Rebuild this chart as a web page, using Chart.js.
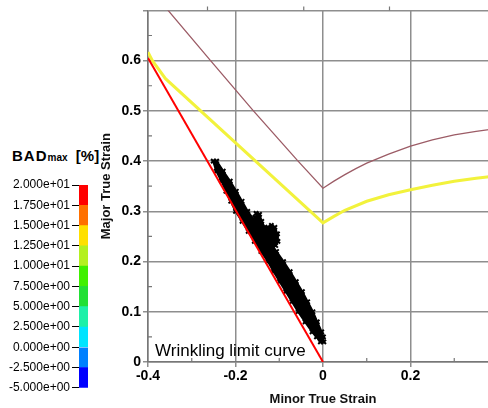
<!DOCTYPE html>
<html>
<head>
<meta charset="utf-8">
<script src="https://cdn.jsdelivr.net/npm/chart.js@4.4.1/dist/chart.umd.min.js"></script>
<style>
  html, body { margin: 0; padding: 0; background: #fff; }
  body { width: 488px; height: 408px; position: relative; overflow: hidden; font-family: "Liberation Sans", Arial, sans-serif; }
  #mainBox { position: absolute; left: 95px; top: 0; width: 409px; height: 408px; }
  #barBox { position: absolute; left: 0; top: 175px; width: 90px; height: 222px; }
  #legendTitle { position: absolute; left: 12px; top: 146px; font-weight: bold; font-size: 15px; line-height: 20px; white-space: nowrap; }
  #legendTitle .sub { font-size: 10px; }
  #wlcText { position: absolute; left: 155px; top: 341px; font-size: 17px; line-height: 20px; white-space: nowrap; }
</style>
</head>
<body>
<div id="legendTitle"><span style="letter-spacing:1px">BAD</span><span class="sub">max</span>&nbsp;&nbsp;[%]</div>
<div id="barBox"><canvas id="barChart"></canvas></div>
<div id="mainBox"><canvas id="mainChart"></canvas></div>
<div id="wlcText">Wrinkling limit curve</div>
<script>
// Axis ticks
const xTicks = [-0.4, -0.2, 0, 0.2, 0.4];
const xTickLabels = ['-0.4', '-0.2', '0', '0.2', ''];
const yTicks = [0, 0.1, 0.2, 0.3, 0.4, 0.5, 0.6, 0.7];
const yTickLabels = ['0', '0.1', '0.2', '0.3', '0.4', '0.5', '0.6', ''];
const xMinor = [-0.3, -0.1, 0.1, 0.3];
const yMinor = [0.05, 0.15, 0.25, 0.35, 0.45, 0.55, 0.65];
const topTicks = [-0.264, -0.044, 0.152];

// Wrinkling limit curve (red)
const wlcX = [-0.4, 0];
const wlcY = [0.605, 0];

// Forming limit curve (brown)
const flcX = [-0.356, -0.257, -0.159, -0.057, 0, 0.025, 0.05, 0.075, 0.1, 0.15, 0.2, 0.25, 0.3, 0.35, 0.4];
const flcY = [0.702, 0.6, 0.5, 0.4, 0.346, 0.36, 0.373, 0.385, 0.396, 0.414, 0.43, 0.442, 0.452, 0.459, 0.465];

// Safety curve (yellow)
const safeX = [-0.4, -0.39, -0.36, 0, 0.025, 0.05, 0.1, 0.15, 0.2, 0.25, 0.3, 0.35, 0.4];
const safeY = [0.617, 0.6, 0.564, 0.277, 0.29, 0.302, 0.32, 0.333, 0.343, 0.352, 0.36, 0.366, 0.371];

// Strain points: outline of the main band and of the side cluster
const bandY = [0.40, 0.38, 0.36, 0.34, 0.32, 0.30, 0.28, 0.26, 0.24, 0.22, 0.20, 0.18, 0.16, 0.14, 0.12, 0.10, 0.08, 0.06, 0.05, 0.04];
const bandLeftX = [-0.251, -0.244, -0.232, -0.222, -0.211, -0.200, -0.185, -0.171, -0.157, -0.142, -0.126, -0.113, -0.099, -0.085, -0.071, -0.057, -0.041, -0.025, -0.015, -0.006];
const bandRightX = [-0.243, -0.228, -0.212, -0.198, -0.185, -0.172, -0.155, -0.139, -0.123, -0.106, -0.090, -0.075, -0.061, -0.047, -0.035, -0.023, -0.013, -0.003, 0.001, 0.002];
const blobX = [-0.153, -0.145, -0.140, -0.133, -0.126, -0.118, -0.110, -0.104, -0.103, -0.108, -0.118, -0.130, -0.140, -0.150, -0.156];
const blobY = [0.296, 0.294, 0.280, 0.268, 0.268, 0.272, 0.268, 0.255, 0.240, 0.232, 0.234, 0.240, 0.250, 0.270, 0.288];

// Colour bar
const cbLevels = [-5, -2.5, 0, 2.5, 5, 7.5, 10, 12.5, 15, 17.5, 20];
const cbColors = ['#0000ff', '#0080ff', '#00e4ff', '#1ef0a8', '#22e034', '#40f000', '#b4f020', '#ffe000', '#ff7000', '#ff0000'];

const FONT = '"Liberation Sans", Arial, sans-serif';

function pts(xs, ys) {
  return xs.map((x, i) => ({ x, y: ys[i] }));
}

function fmtExp(v) {
  const [m, e] = v.toExponential(3).split('e');
  const n = parseInt(e);
  return m + 'e' + (n < 0 ? '-' : '+') + String(Math.abs(n)).padStart(2, '0');
}

// small inward ticks between the labelled ones
const minorTicks = {
  id: 'minorTicks',
  afterDraw(chart) {
    const { ctx, chartArea: a } = chart;
    const x = chart.scales.x, y = chart.scales.y;
    ctx.save();
    ctx.strokeStyle = '#777';
    ctx.lineWidth = 1.2;
    ctx.beginPath();
    xMinor.forEach(v => {
      const px = x.getPixelForValue(v);
      ctx.moveTo(px, a.bottom);
      ctx.lineTo(px, a.bottom - 4);
    });
    yMinor.forEach(v => {
      const py = y.getPixelForValue(v);
      ctx.moveTo(a.left, py);
      ctx.lineTo(a.left + 4, py);
    });
    topTicks.forEach(v => {
      const px = x.getPixelForValue(v);
      ctx.moveTo(px, a.top);
      ctx.lineTo(px, a.top - 4);
    });
    ctx.stroke();
    ctx.restore();
  }
};

const bandPts = pts(bandLeftX, bandY).concat(pts(bandRightX, bandY).reverse());
const blobPts = pts(blobX, blobY);

new Chart(document.getElementById('mainChart'), {
  type: 'scatter',
  data: {
    datasets: [
      {
        label: 'Wrinkling limit curve',
        data: pts(wlcX, wlcY),
        showLine: true,
        borderColor: '#ff0000',
        borderWidth: 2,
        pointRadius: 0,
        order: 0
      },
      {
        label: 'Strain band',
        data: bandPts,
        showLine: true,
        fill: 'shape',
        backgroundColor: '#000',
        borderColor: '#000',
        borderWidth: 2,
        pointStyle: 'crossRot',
        pointRadius: 3,
        pointBorderWidth: 2,
        pointBorderColor: '#000',
        order: 1
      },
      {
        label: 'Strain cluster',
        data: blobPts,
        showLine: true,
        fill: 'shape',
        backgroundColor: '#000',
        borderColor: '#000',
        borderWidth: 2,
        pointStyle: 'crossRot',
        pointRadius: 3,
        pointBorderWidth: 2,
        pointBorderColor: '#000',
        order: 1
      },
      {
        label: 'Safety curve',
        data: pts(safeX, safeY),
        showLine: true,
        borderColor: '#f2f23c',
        borderWidth: 3,
        pointRadius: 0,
        order: 2
      },
      {
        label: 'FLC',
        data: pts(flcX, flcY),
        showLine: true,
        borderColor: '#9c5c66',
        borderWidth: 1.3,
        pointRadius: 0,
        order: 3
      }
    ]
  },
  options: {
    animation: false,
    responsive: true,
    maintainAspectRatio: false,
    layout: { padding: { top: 10, left: 0, right: 0, bottom: 0 } },
    plugins: { legend: { display: false }, tooltip: { enabled: false } },
    scales: {
      x: {
        type: 'linear',
        min: -0.4,
        max: 0.4,
        afterBuildTicks: s => { s.ticks = xTicks.map(v => ({ value: v })); },
        afterFit: s => { s.height = 46; },
        grid: { color: '#8e8e8e', lineWidth: 1.5, tickLength: 5 },
        border: { color: '#777', width: 1.5 },
        ticks: {
          padding: 1,
          color: '#000',
          font: { family: FONT, size: 14, weight: 'bold' },
          callback: (v, i) => xTickLabels[i]
        },
        title: {
          display: true,
          text: 'Minor True Strain',
          color: '#111',
          font: { family: FONT, size: 13, weight: 'bold' },
          padding: { top: 4, bottom: 1 }
        }
      },
      y: {
        type: 'linear',
        min: 0,
        max: 0.7,
        afterBuildTicks: s => { s.ticks = yTicks.map(v => ({ value: v })); },
        afterFit: s => { s.width = 53; },
        grid: { color: '#8e8e8e', lineWidth: 1.5, tickLength: 5 },
        border: { color: '#777', width: 1.5 },
        ticks: {
          padding: 2,
          color: '#000',
          font: { family: FONT, size: 14, weight: 'bold' },
          callback: (v, i) => yTickLabels[i]
        },
        title: {
          display: true,
          text: 'Major True Strain',
          color: '#111',
          font: { family: FONT, size: 13, weight: 'bold' },
          padding: { top: 4, bottom: 4 }
        }
      }
    }
  },
  plugins: [minorTicks]
});

new Chart(document.getElementById('barChart'), {
  type: 'bar',
  data: {
    labels: [''],
    datasets: cbColors.map((c, i) => ({
      label: fmtExp(cbLevels[i]),
      data: [[cbLevels[i], cbLevels[i + 1]]],
      backgroundColor: c,
      grouped: false,
      barPercentage: 1,
      categoryPercentage: 1
    }))
  },
  options: {
    animation: false,
    responsive: true,
    maintainAspectRatio: false,
    layout: { padding: { top: 10, bottom: 6, right: 2, left: 0 } },
    plugins: { legend: { display: false }, tooltip: { enabled: false } },
    scales: {
      x: { display: false },
      y: {
        min: -5,
        max: 20,
        afterBuildTicks: s => { s.ticks = cbLevels.map(v => ({ value: v })); },
        afterFit: s => { s.width = 79; },
        grid: { drawOnChartArea: false, color: '#000', lineWidth: 1, tickLength: 7 },
        border: { display: false },
        ticks: {
          padding: 2,
          color: '#000',
          font: { family: FONT, size: 12 },
          callback: v => fmtExp(v)
        }
      }
    }
  }
});
</script>
</body>
</html>
